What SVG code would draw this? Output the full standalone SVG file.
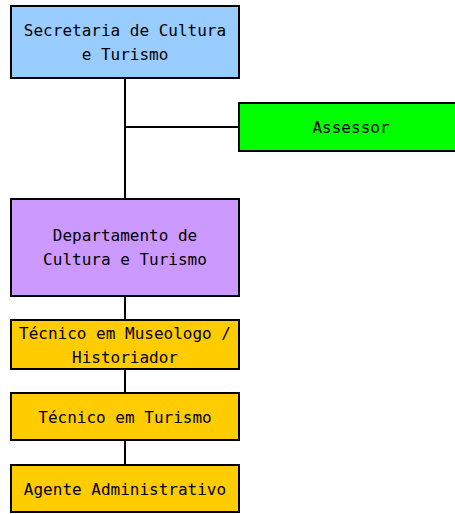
<svg xmlns="http://www.w3.org/2000/svg" width="455" height="514" viewBox="0 0 455 514">
<style>
.box{stroke:#000;stroke-width:2}
.t{font-family:"DejaVu Sans Mono","Liberation Mono",monospace;font-size:16px;fill:#000;text-anchor:middle;dominant-baseline:central}
.c{stroke:#000;stroke-width:2;fill:none}
</style>
<rect width="455" height="514" fill="#fff"/>
<g id="connectors">
<path class="c" d="M125 78V199M125 127H239M125 296V320M125 369V393M125 440V465"/>
</g>
<g id="secretaria">
<rect class="box" x="11" y="6" width="228" height="72" fill="#99CCFF"/>
<text class="t" x="125" y="30">Secretaria de Cultura</text>
<text class="t" x="125" y="54">e Turismo</text>
</g>
<g id="assessor">
<rect class="box" x="239" y="103" width="220" height="48" fill="#00FF00"/>
<text class="t" x="351" y="127">Assessor</text>
</g>
<g id="departamento">
<rect class="box" x="11" y="199" width="228" height="97" fill="#CC99FF"/>
<text class="t" x="125" y="235">Departamento de</text>
<text class="t" x="125" y="259">Cultura e Turismo</text>
</g>
<g id="museologo">
<rect class="box" x="11" y="320" width="228" height="49" fill="#FFCC00"/>
<text class="t" x="125" y="333">Técnico em Museologo /</text>
<text class="t" x="125" y="357">Historiador</text>
</g>
<g id="turismo">
<rect class="box" x="11" y="393" width="228" height="47" fill="#FFCC00"/>
<text class="t" x="125" y="417">Técnico em Turismo</text>
</g>
<g id="agente">
<rect class="box" x="11" y="465" width="228" height="47" fill="#FFCC00"/>
<text class="t" x="125" y="489">Agente Administrativo</text>
</g>
</svg>
